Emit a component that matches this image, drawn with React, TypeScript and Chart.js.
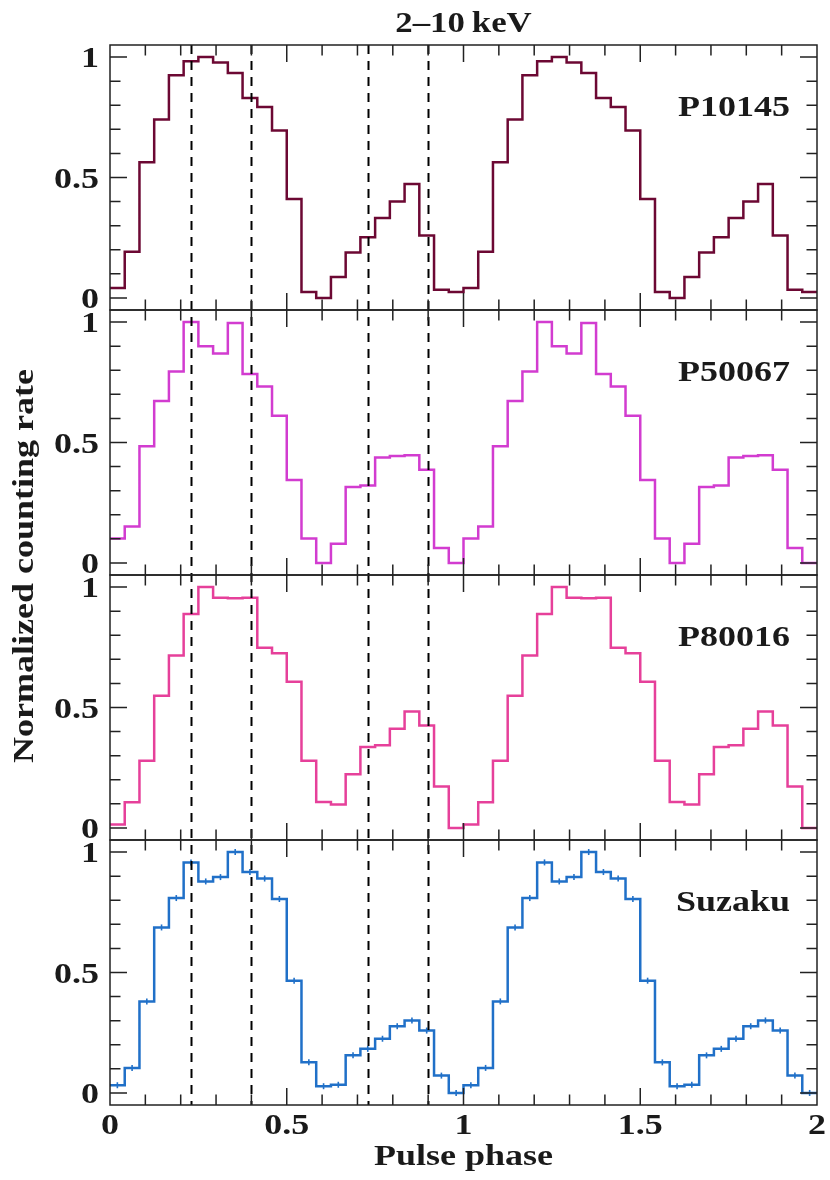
import React, { useEffect, useRef } from "react";
import { Chart, registerables } from "chart.js";

Chart.register(...registerables);

// ---------- data ----------
const BINS_PER_CYCLE = 24;
const CYCLES = 2;

const P10145 = [0.041, 0.192, 0.563, 0.741, 0.924, 0.983, 1.0, 0.977, 0.934, 0.83, 0.793, 0.695, 0.411, 0.025, 0.0, 0.087, 0.189, 0.252, 0.332, 0.4, 0.473, 0.259, 0.034, 0.025];
const P50067 = [0.101, 0.151, 0.484, 0.672, 0.795, 1.0, 0.9, 0.869, 0.996, 0.784, 0.732, 0.611, 0.344, 0.102, 0.0, 0.08, 0.315, 0.321, 0.438, 0.444, 0.447, 0.387, 0.062, 0.0];
const P80016 = [0.014, 0.107, 0.279, 0.549, 0.716, 0.888, 1.0, 0.956, 0.953, 0.956, 0.748, 0.725, 0.607, 0.279, 0.108, 0.097, 0.223, 0.336, 0.343, 0.412, 0.483, 0.425, 0.172, 0.0];
const SUZAKU = [0.032, 0.104, 0.38, 0.687, 0.809, 0.957, 0.878, 0.896, 1.0, 0.917, 0.89, 0.805, 0.466, 0.127, 0.028, 0.034, 0.156, 0.183, 0.225, 0.277, 0.301, 0.259, 0.072, 0.0];

const PANEL_NAMES = ["P10145", "P50067", "P80016", "Suzaku"];
const PANEL_VALUES = [P10145, P50067, P80016, SUZAKU];
const PANEL_COLORS = ["#6c0833", "#d23cd0", "#e6409a", "#2070c8"];
const PANEL_ERRORBARS = [false, false, false, true];

const DASHED_PHASES = [0.23, 0.4, 0.73, 0.9];

const X_TICK_VALUES = [0, 0.5, 1, 1.5, 2];
const X_TICK_LABELS = ["0", "0.5", "1", "1.5", "2"];
const Y_TICK_VALUES = [0, 0.5, 1];
const Y_TICK_LABELS = ["0", "0.5", "1"];

const TITLE = "2\u201310\u2009keV";
const X_TITLE = "Pulse phase";
const Y_TITLE = "Normalized counting rate";

// ---------- layout / style ----------
const Y_MIN = -0.05;
const Y_MAX = 1.05;
const X_MIN = 0;
const X_MAX = 2;
const FONT_FAMILY = '"Liberation Serif", "Times New Roman", serif';
const STRETCH = 1.2;
const TEXT_COLOR = "#1a1a1a";
const FRAME_COLOR = "#222222";

function stepData(values: number[]) {
  const pts: { x: number; y: number }[] = [];
  const total = BINS_PER_CYCLE * CYCLES;
  for (let i = 0; i < total; i++) {
    pts.push({ x: i / BINS_PER_CYCLE, y: values[i % BINS_PER_CYCLE] });
  }
  pts.push({ x: total / BINS_PER_CYCLE, y: values[(total - 1) % BINS_PER_CYCLE] });
  return pts;
}

function centerData(values: number[]) {
  const pts: { x: number; y: number }[] = [];
  const total = BINS_PER_CYCLE * CYCLES;
  for (let i = 0; i < total; i++) {
    pts.push({ x: (i + 0.5) / BINS_PER_CYCLE, y: values[i % BINS_PER_CYCLE] });
  }
  return pts;
}

function drawText(
  ctx: CanvasRenderingContext2D,
  text: string,
  x: number,
  y: number,
  align: CanvasTextAlign,
  size: number,
  rotate = false
) {
  ctx.save();
  ctx.translate(x, y);
  if (rotate) ctx.rotate(-Math.PI / 2);
  ctx.scale(STRETCH, 1);
  ctx.font = `bold ${size}px ${FONT_FAMILY}`;
  ctx.fillStyle = TEXT_COLOR;
  ctx.textAlign = align;
  ctx.textBaseline = "alphabetic";
  ctx.fillText(text, 0, 0);
  ctx.restore();
}

const framePlugin = {
  id: "panelFrames",
  afterDatasetsDraw(chart: any) {
    const ctx: CanvasRenderingContext2D = chart.ctx;
    const xs = chart.scales.x;
    const { left, right, top, bottom } = chart.chartArea;

    ctx.save();
    // dashed phase markers
    ctx.strokeStyle = "#000000";
    ctx.lineWidth = 2;
    ctx.setLineDash([9, 7]);
    for (const p of DASHED_PHASES) {
      const px = Math.round(xs.getPixelForValue(p)) + 0.5;
      ctx.beginPath();
      ctx.moveTo(px, top);
      ctx.lineTo(px, bottom);
      ctx.stroke();
    }
    ctx.setLineDash([]);

    const MAJOR = 17;
    const MINOR = 10.5;
    ctx.strokeStyle = FRAME_COLOR;
    ctx.lineWidth = 1.5;

    for (let k = 0; k < PANEL_NAMES.length; k++) {
      const ys = chart.scales["y" + k];
      const pTop = ys.getPixelForValue(Y_MAX);
      const pBot = ys.getPixelForValue(Y_MIN);
      ctx.strokeRect(left, pTop, right - left, pBot - pTop);

      ctx.beginPath();
      // x ticks (top & bottom of each panel)
      for (let j = 1; j < 20; j++) {
        const v = j / 10;
        const px = xs.getPixelForValue(v);
        const len = j % 5 === 0 ? MAJOR : MINOR;
        ctx.moveTo(px, pBot);
        ctx.lineTo(px, pBot - len);
        ctx.moveTo(px, pTop);
        ctx.lineTo(px, pTop + len);
      }
      // y ticks (left & right)
      for (let j = 0; j <= 10; j++) {
        const v = j / 10;
        const py = ys.getPixelForValue(v);
        const len = j % 5 === 0 ? MAJOR : MINOR;
        ctx.moveTo(left, py);
        ctx.lineTo(left + len, py);
        ctx.moveTo(right, py);
        ctx.lineTo(right - len, py);
      }
      ctx.stroke();

      // y tick labels
      Y_TICK_VALUES.forEach((v, i) => {
        const py = ys.getPixelForValue(v);
        drawText(ctx, Y_TICK_LABELS[i], left - 11, py + 10, "right", 30);
      });

      // panel label
      drawText(ctx, PANEL_NAMES[k], right - 27, pTop + 71, "right", 30);
    }

    // x tick labels under the bottom panel
    X_TICK_VALUES.forEach((v, i) => {
      const px = xs.getPixelForValue(v);
      drawText(ctx, X_TICK_LABELS[i], px, bottom + 29, "center", 30);
    });

    // titles
    const cx = (left + right) / 2;
    drawText(ctx, TITLE, cx, top - 13, "center", 29);
    drawText(ctx, X_TITLE, cx, bottom + 60, "center", 30);
    drawText(ctx, Y_TITLE, 33, 566, "center", 30, true);
    ctx.restore();
  },
};

export default function App() {
  const canvasRef = useRef<HTMLCanvasElement | null>(null);

  useEffect(() => {
    if (!canvasRef.current) return;
    const span = Y_MAX - Y_MIN;
    const nPanels = PANEL_NAMES.length;

    const scales: any = {
      x: { type: "linear", min: X_MIN, max: X_MAX, display: false, bounds: "data" },
    };
    const datasets: any[] = [];

    for (let k = 0; k < nPanels; k++) {
      const max = Y_MAX + span * k;
      scales["y" + k] = {
        type: "linear",
        display: false,
        bounds: "data",
        min: max - span * nPanels,
        max: max,
      };
      datasets.push({
        label: PANEL_NAMES[k],
        data: stepData(PANEL_VALUES[k]),
        yAxisID: "y" + k,
        borderColor: PANEL_COLORS[k],
        borderWidth: 2.5,
        stepped: "before",
        pointRadius: 0,
        fill: false,
        tension: 0,
      });
      if (PANEL_ERRORBARS[k]) {
        datasets.push({
          label: PANEL_NAMES[k] + " errors",
          data: centerData(PANEL_VALUES[k]),
          yAxisID: "y" + k,
          showLine: false,
          borderColor: PANEL_COLORS[k],
          backgroundColor: PANEL_COLORS[k],
          pointStyle: "line",
          rotation: 90,
          pointRadius: 3,
          pointBorderWidth: 1.6,
          pointHoverRadius: 3,
        });
      }
    }

    const chart = new Chart(canvasRef.current, {
      type: "line",
      data: { datasets },
      options: {
        animation: false,
        responsive: false,
        maintainAspectRatio: false,
        events: [],
        layout: { padding: { left: 110, right: 13, top: 45, bottom: 75 } },
        plugins: {
          legend: { display: false },
          tooltip: { enabled: false },
          title: { display: false },
        },
        scales,
      },
      plugins: [framePlugin],
    } as any);

    return () => chart.destroy();
  }, []);

  return (
    <div
      style={{
        position: "absolute",
        left: 0,
        top: 0,
        width: 830,
        height: 1180,
        background: "#ffffff",
      }}
    >
      <canvas ref={canvasRef} width={830} height={1180} style={{ display: "block" }} />
    </div>
  );
}
